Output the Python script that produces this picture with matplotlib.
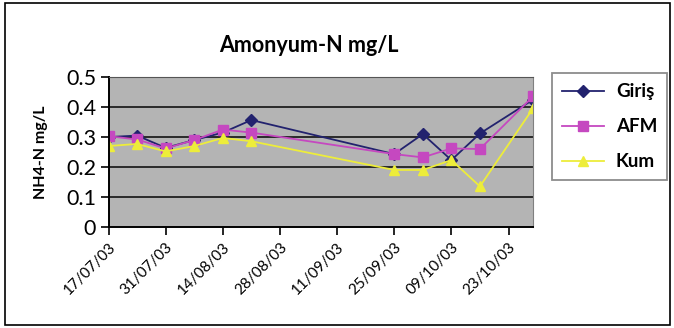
import matplotlib
matplotlib.use("Agg")
import matplotlib.pyplot as plt
import matplotlib.dates as mdates
import pandas as pd
from matplotlib.patches import Rectangle

plt.rcParams['font.family'] = ['Lato', 'DejaVu Sans']

# sampling dates and measured values (NH4-N mg/L)
dates = pd.to_datetime(['2003-07-17', '2003-07-24', '2003-07-31', '2003-08-07',
                        '2003-08-14', '2003-08-21', '2003-09-25', '2003-10-02',
                        '2003-10-09', '2003-10-16', '2003-10-29'])
giris = [0.30, 0.305, 0.264, 0.29, 0.315, 0.357, 0.243, 0.31, 0.223, 0.312, 0.425]
afm = [0.303, 0.292, 0.262, 0.29, 0.325, 0.315, 0.243, 0.232, 0.262, 0.26, 0.436]
kum = [0.27, 0.277, 0.252, 0.27, 0.297, 0.286, 0.19, 0.19, 0.223, 0.135, 0.396]
tick_dates = pd.date_range('2003-07-17', '2003-10-23', freq='14D')

fig = plt.figure(figsize=(6.74, 3.28), dpi=100)
fig.patches.append(Rectangle((0.007, 0.008), 0.987, 0.984, transform=fig.transFigure,
                             fill=False, edgecolor='black', linewidth=1.2))

ax = fig.add_axes([0.161, 0.3088, 0.6298, 0.4555])
ax.set_facecolor('#B4B4B4')

ax.plot(dates, giris, color='#22226E', marker='D', markersize=6, linewidth=1.3, label='Giriş')
ax.plot(dates, afm, color='#C548C0', marker='s', markersize=6.5, linewidth=1.3, label='AFM')
ax.plot(dates, kum, color='#EDED3A', marker='^', markersize=7.5, linewidth=1.3, label='Kum')

ax.set_xlim(dates[0], dates[-1])
ax.set_ylim(0, 0.5)
ax.set_yticks([0, 0.1, 0.2, 0.3, 0.4, 0.5])
ax.set_yticklabels(['0', '0.1', '0.2', '0.3', '0.4', '0.5'], fontsize=15.5)
for y in [0.1, 0.2, 0.3, 0.4]:
    ax.axhline(y, color='#2A2A2A', linewidth=1.4, zorder=1)

ax.set_xticks(tick_dates)
ax.xaxis.set_major_formatter(mdates.DateFormatter('%d/%m/%y'))
plt.setp(ax.get_xticklabels(), rotation=45, ha='right', rotation_mode='anchor', fontsize=11)

ax.tick_params(axis='both', direction='out', length=6, width=1.2, color='black')
ax.tick_params(axis='y', pad=3)
ax.spines['left'].set_color('black')
ax.spines['bottom'].set_color('black')
ax.spines['left'].set_linewidth(1.4)
ax.spines['bottom'].set_linewidth(1.4)
ax.spines['top'].set_color('#555555')
ax.spines['right'].set_color('#808080')

ax.set_ylabel('NH4-N mg/L', fontsize=11.5, fontweight='bold', labelpad=13)
fig.text(0.459, 0.862, 'Amonyum-N mg/L', ha='center', va='center',
         fontsize=15.5, fontweight='bold')

leg = fig.legend(loc='upper left', bbox_to_anchor=(0.819, 0.777), borderaxespad=0,
                 frameon=True, fancybox=False, edgecolor='#707070',
                 prop={'weight': 'bold', 'size': 13.5},
                 labelspacing=0.95, handlelength=2.2, handletextpad=0.65, borderpad=0.55)
leg.get_frame().set_linewidth(1.3)

fig.savefig('out.png', dpi=100)
